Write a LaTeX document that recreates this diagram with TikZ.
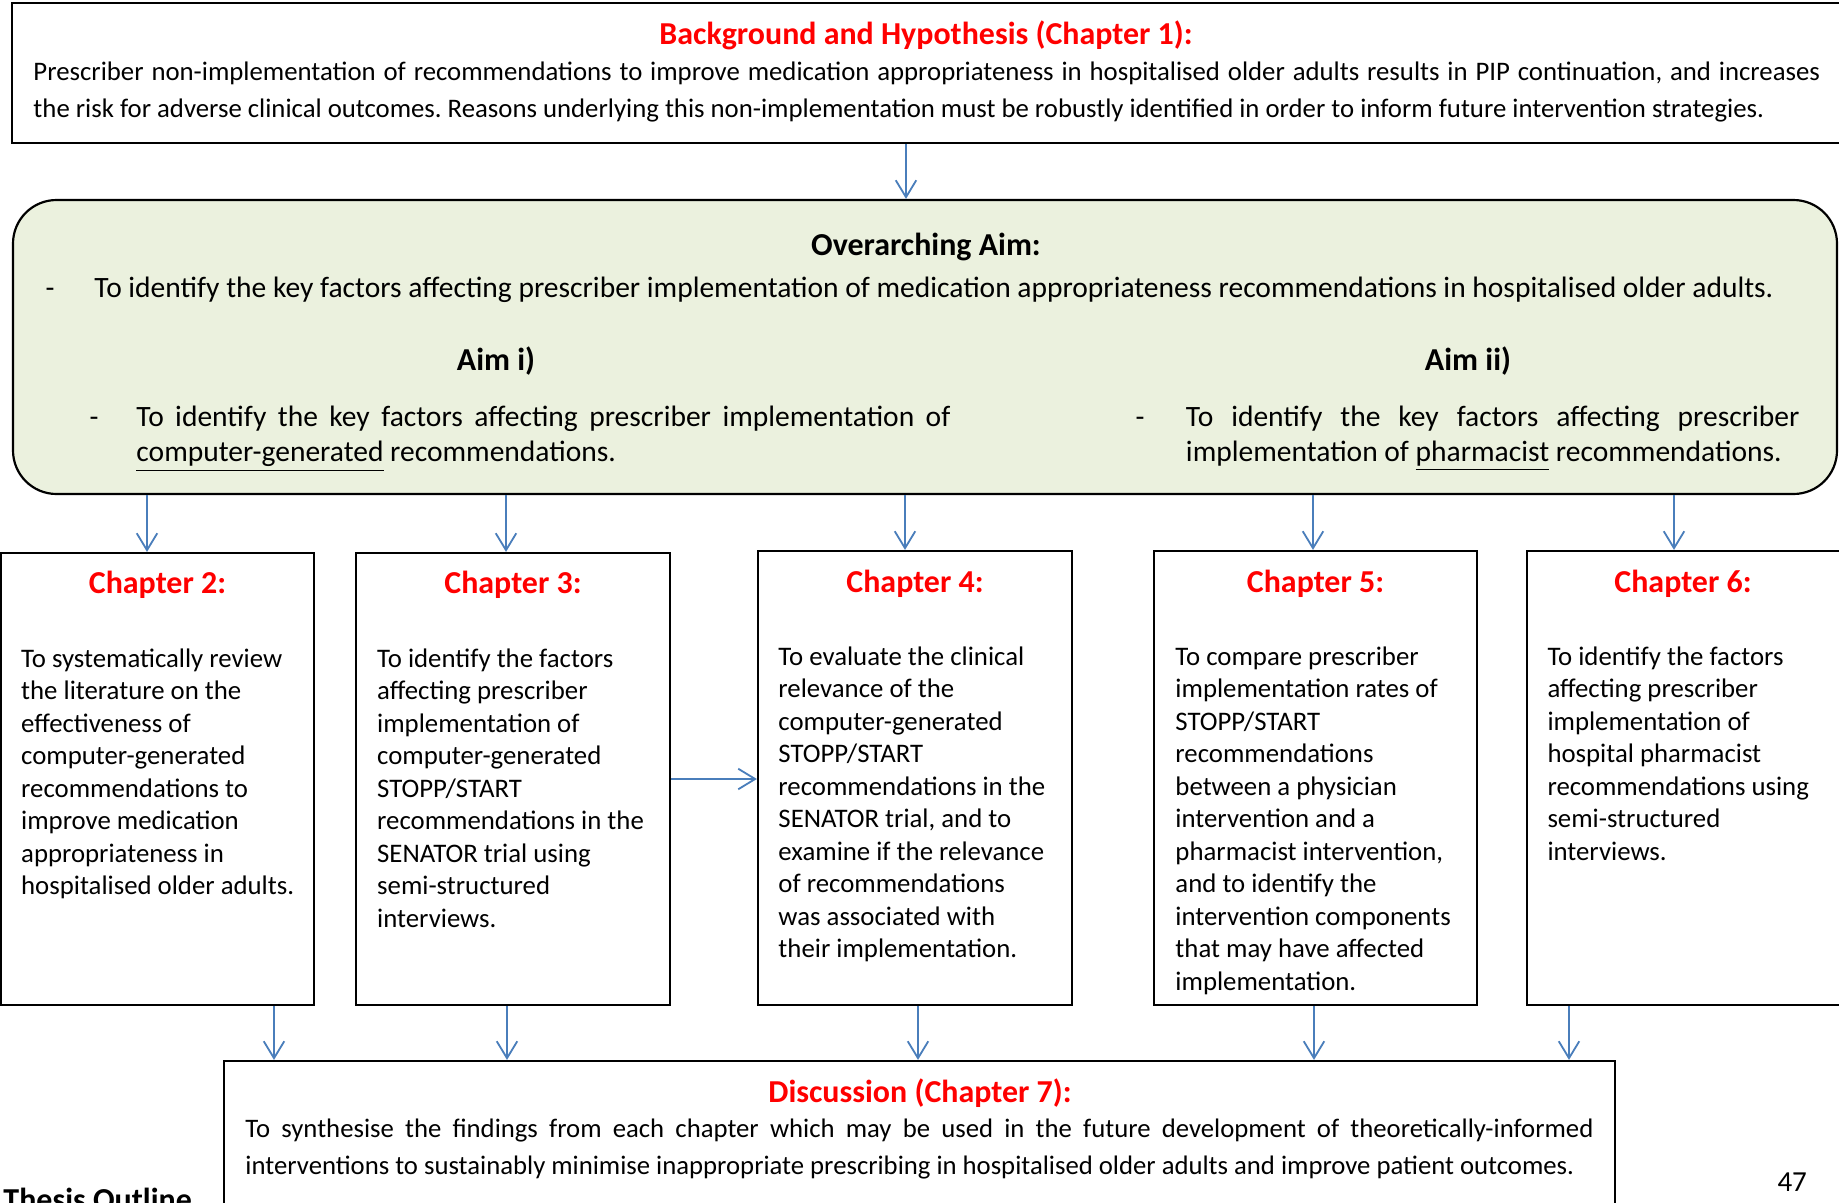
\documentclass[tikz,border=0pt]{standalone}
\usepackage{fontspec}
\setmainfont{Carlito}
\usetikzlibrary{arrows.meta,fit}
\definecolor{arrowblue}{RGB}{74,126,187}
\definecolor{aimgreen}{RGB}{235,241,222}
\newcommand\jline[2]{\hbox to #1{\spaceskip=\fontdimen2\font plus 1fil\relax #2}}
\frenchspacing
\begin{document}
\begin{tikzpicture}[x=0.41322pt,y=-0.41322pt,
  box/.style={draw=black, line width=0.9pt, inner sep=0pt},
  title/.style={font=\fontsize{13.2}{15}\selectfont\bfseries, text=red, anchor=base, inner sep=0pt},
  head/.style={font=\fontsize{13.2}{15}\selectfont\bfseries, text=black, anchor=base, inner sep=0pt},
  topbody/.style={font=\fontsize{11.06}{15.5}\selectfont, anchor=base west, inner sep=0pt, align=flush left, text width=760pt},
  discbody/.style={font=\fontsize{11.04}{15.3}\selectfont, anchor=base west, inner sep=0pt, align=flush left, text width=700pt},
  aimbody/.style={font=\fontsize{12.2}{14.8}\selectfont, anchor=base west, inner sep=0pt, align=flush left, text width=760pt},
  dashmark/.style={font=\fontsize{12}{14.4}\selectfont, anchor=base, inner sep=0pt},
  chbody/.style={font=\fontsize{11.07}{13.43}\selectfont, anchor=base west, inner sep=0pt, align=flush left, text width=132pt},
  arr/.style={draw=arrowblue, line width=0.75pt, -{Straight Barb[length=7pt,width=8.5pt]}}
]
\useasboundingbox (0,0) rectangle (1839,1202);

% boxes
\node[box, fit={(12,3) (1880,143)}] (top) {};
\node[box, fill=aimgreen, rounded corners=18pt, fit={(13,200) (1837,494)}] (aim) {};
\node[box, fit={(1,553) (314,1005)}] (c2) {};
\node[box, fit={(356,553) (670,1005)}] (c3) {};
\node[box, fit={(758,551) (1072,1005)}] (c4) {};
\node[box, fit={(1154,551) (1477,1005)}] (c5) {};
\node[box, fit={(1527,551) (1890,1005)}] (c6) {};
\node[box, fit={(224,1061) (1615,1250)}] (disc) {};

% top box text
\node[title] (t1) at (926,44) {Background and Hypothesis (Chapter 1):};
\node[topbody] (t1b) at (33,80) {\jline{738.3pt}{Prescriber non-implementation of recommendations to improve medication appropriateness in hospitalised older adults results in PIP continuation, and increases}\\
the risk for adverse clinical outcomes. Reasons underlying this non-implementation must be robustly identified in order to inform future intervention strategies.};

% aims
\node[head] (oa) at (926,255) {Overarching Aim:};
\node[dashmark] (oad) at (50,297) {-};
\node[aimbody] (oat) at (94,297) {To identify the key factors affecting prescriber implementation of medication appropriateness recommendations in hospitalised older adults.};
\node[head] (ai) at (496,370) {Aim i)};
\node[head] (aii) at (1468,370) {Aim ii)};
\node[dashmark] (aid) at (94,426) {-};
\node[aimbody] (ait) at (136,426) {\jline{336.3pt}{To identify the key factors affecting prescriber implementation of}\\
\underline{computer-generated} recommendations.};
\node[dashmark] (aiid) at (1140,426) {-};
\node[aimbody] (aiit) at (1185.5,426) {\jline{253.5pt}{To identify the key factors affecting prescriber}\\
implementation of \underline{pharmacist} recommendations.};

% chapter titles
\node[title] (c2h) at (c2.north |- 0,593) {Chapter 2:};
\node[title] (c3h) at (c3.north |- 0,593) {Chapter 3:};
\node[title] (c4h) at (c4.north |- 0,592) {Chapter 4:};
\node[title] (c5h) at (c5.north |- 0,592) {Chapter 5:};
\node[title] (c6h) at (1683,592) {Chapter 6:};

% chapter bodies
\node[chbody] (c2t) at (20.7,667) {To systematically review\\ the literature on the\\ effectiveness of\\ computer-generated\\ recommendations to\\ improve medication\\ appropriateness in\\ hospitalised older adults.};
\node[chbody] (c3t) at (376.7,667) {To identify the factors\\ affecting prescriber\\ implementation of\\ computer-generated\\ STOPP/START\\ recommendations in the\\ SENATOR trial using\\ semi-structured\\ interviews.};
\node[chbody] (c4t) at (778,665) {To evaluate the clinical\\ relevance of the\\ computer-generated\\ STOPP/START\\ recommendations in the\\ SENATOR trial, and to\\ examine if the relevance\\ of recommendations\\ was associated with\\ their implementation.};
\node[chbody] (c5t) at (1175,665) {To compare prescriber\\ implementation rates of\\ STOPP/START\\ recommendations\\ between a physician\\ intervention and a\\ pharmacist intervention,\\ and to identify the\\ intervention components\\ that may have affected\\ implementation.};
\node[chbody] (c6t) at (1547,665) {To identify the factors\\ affecting prescriber\\ implementation of\\ hospital pharmacist\\ recommendations using\\ semi-structured\\ interviews.};

% discussion
\node[title] (dt) at (920,1102) {Discussion (Chapter 7):};
\node[discbody] (db) at (245,1137) {\jline{557pt}{To synthesise the findings from each chapter which may be used in the future development of theoretically-informed}\\
interventions to sustainably minimise inappropriate prescribing in hospitalised older adults and improve patient outcomes.};

% footer
\node[head, anchor=base west] (th) at (3,1210) {Thesis Outline};
\node[font=\fontsize{12}{14}\selectfont, anchor=base west, inner sep=0pt] (pn) at (1777,1191) {47};

% connectors
\coordinate (ax0) at (906,0);
\coordinate (ax1) at (147,0);
\coordinate (ax2) at (506,0);
\coordinate (ax3) at (905,0);
\coordinate (ax4) at (1313,0);
\coordinate (ax5) at (1674,0);
\coordinate (bx1) at (274,0);
\coordinate (bx2) at (507,0);
\coordinate (bx3) at (918,0);
\coordinate (bx4) at (1314,0);
\coordinate (bx5) at (1569,0);
\coordinate (hy) at (0,779);

\draw[arr] (top.south -| ax0) -- (aim.north -| ax0);
\draw[arr] (aim.south -| ax1) -- (c2.north -| ax1);
\draw[arr] (aim.south -| ax2) -- (c3.north -| ax2);
\draw[arr] (aim.south -| ax3) -- (c4.north -| ax3);
\draw[arr] (aim.south -| ax4) -- (c5.north -| ax4);
\draw[arr] (aim.south -| ax5) -- (c6.north -| ax5);
\draw[arr] (c3.east |- hy) -- (c4.west |- hy);
\draw[arr] (c2.south -| bx1) -- (disc.north -| bx1);
\draw[arr] (c3.south -| bx2) -- (disc.north -| bx2);
\draw[arr] (c4.south -| bx3) -- (disc.north -| bx3);
\draw[arr] (c5.south -| bx4) -- (disc.north -| bx4);
\draw[arr] (c6.south -| bx5) -- (disc.north -| bx5);
\end{tikzpicture}
\end{document}
